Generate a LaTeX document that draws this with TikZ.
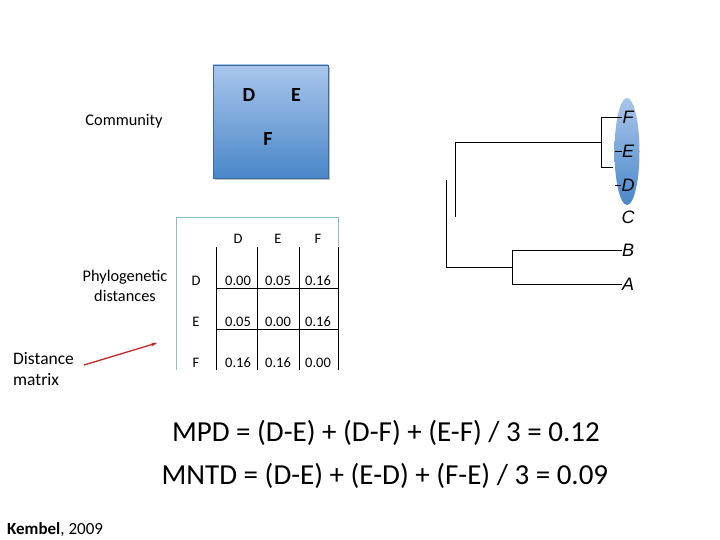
\documentclass[tikz,border=0pt]{standalone}
\usepackage{fontspec}
\setmainfont{Carlito}
\newfontfamily\arialfont{Liberation Sans}
\usetikzlibrary{arrows.meta,shapes.geometric}
\definecolor{boxtop}{HTML}{A9C6EB}
\definecolor{boxbot}{HTML}{4A87C9}
\definecolor{tealline}{HTML}{8DBCC8}
\definecolor{arrowred}{HTML}{C0282A}
\begin{document}
\begin{tikzpicture}[x=1pt,y=-1pt,
  lbl/.style={inner sep=0pt,font=\fontsize{16.3}{20}\selectfont},
  boxletter/.style={inner sep=0pt,font=\fontsize{20}{22}\selectfont\bfseries},
  cell/.style={inner sep=0pt,font=\fontsize{14.5}{16}\selectfont},
  taxon/.style={inner sep=0pt,font=\fontsize{18}{20}\selectfont\arialfont\itshape},
  branch/.style={line width=0.9pt,black},
  grid/.style={line width=0.9pt,black},
  formula/.style={inner sep=0pt,font=\fontsize{29}{32}\selectfont}]
\useasboundingbox (0,0) rectangle (720,540);
% Community box
\fill[black!25] (215,67) rectangle (330,180);
\shade[top color=boxtop,bottom color=boxbot,draw=boxbot!80!black,line width=0.4pt] (213,65) rectangle (328,178);
\node[boxletter] (cd) at (249,95) {D};
\node[boxletter] (ce) at (296,95) {E};
\node[boxletter] (cf) at (268,139) {F};
\node[lbl] (community) at (124,121) {Community};
% Matrix
\draw[tealline,line width=0.8pt] (176,370) -- (176,217) -- (338,217) -- (338,246);
\foreach \x in {216,257,299,338} \draw[grid] (\x,247) -- (\x,370);
\foreach \y in {288,329} \draw[grid] (216,\y) -- (338,\y);
\node[cell] (hd) at (238,239) {D};
\node[cell] (he) at (278,239) {E};
\node[cell] (hf) at (318,239) {F};
\node[cell] (rd) at (196,281) {D};
\node[cell] (re) at (196,322) {E};
\node[cell] (rf) at (196,363) {F};
\node[cell] (m11) at (238,281) {0.00};
\node[cell] (m12) at (278,281) {0.05};
\node[cell] (m13) at (318,281) {0.16};
\node[cell] (m21) at (238,322) {0.05};
\node[cell] (m22) at (278,322) {0.00};
\node[cell] (m23) at (318,322) {0.16};
\node[cell] (m31) at (238,363) {0.16};
\node[cell] (m32) at (278,363) {0.16};
\node[cell] (m33) at (318,363) {0.00};
\node[lbl,align=center] (phylo) at (125,286) {Phylogenetic\\distances};
\node[lbl,align=left,anchor=west,font=\fontsize{17.5}{21}\selectfont] (dm) at (13,369) {Distance\\matrix};
\coordinate (arrowend) at (157,343);
\draw[arrowred,line width=1.3pt,-{Stealth[length=6pt,width=4pt]}] (84,365) -- (arrowend);
% Tree
\shade[top color=boxtop,bottom color=boxbot] (627,151.5) ellipse [x radius=12.5,y radius=53.5];
\node[taxon] (tF) at (628,117) {F};
\node[taxon] (tE) at (628,151) {E};
\node[taxon] (tD) at (628,185) {D};
\node[taxon] (tC) at (628,217) {C};
\node[taxon] (tB) at (628,250) {B};
\node[taxon] (tA) at (628,284) {A};
\draw[branch] (446,180) -- (446,267) -- (512,267);
\draw[branch] (512,250) -- (512,284);
\draw[branch] (512,250) -- (tB.west);
\draw[branch] (512,284) -- (tA.west);
\draw[branch] (455,217) -- (455,142) -- (601,142);
\draw[branch] (601,117) -- (601,167) -- (613,167);
\draw[branch] (601,117) -- (tF.west);
\draw[branch] (615,151) -- (tE.west);
\draw[branch] (615,185) -- (tD.west);
% Formulas
\node[formula] (mpd) at (386,433) {MPD = (D-E) + (D-F) + (E-F) / 3 = 0.12};
\node[formula] (mntd) at (385,476) {MNTD = (D-E) + (E-D) + (F-E) / 3 = 0.09};
\node[lbl,anchor=west,font=\fontsize{17}{20}\selectfont] (ref) at (7,530) {\textbf{Kembel}, 2009};
\end{tikzpicture}
\end{document}
